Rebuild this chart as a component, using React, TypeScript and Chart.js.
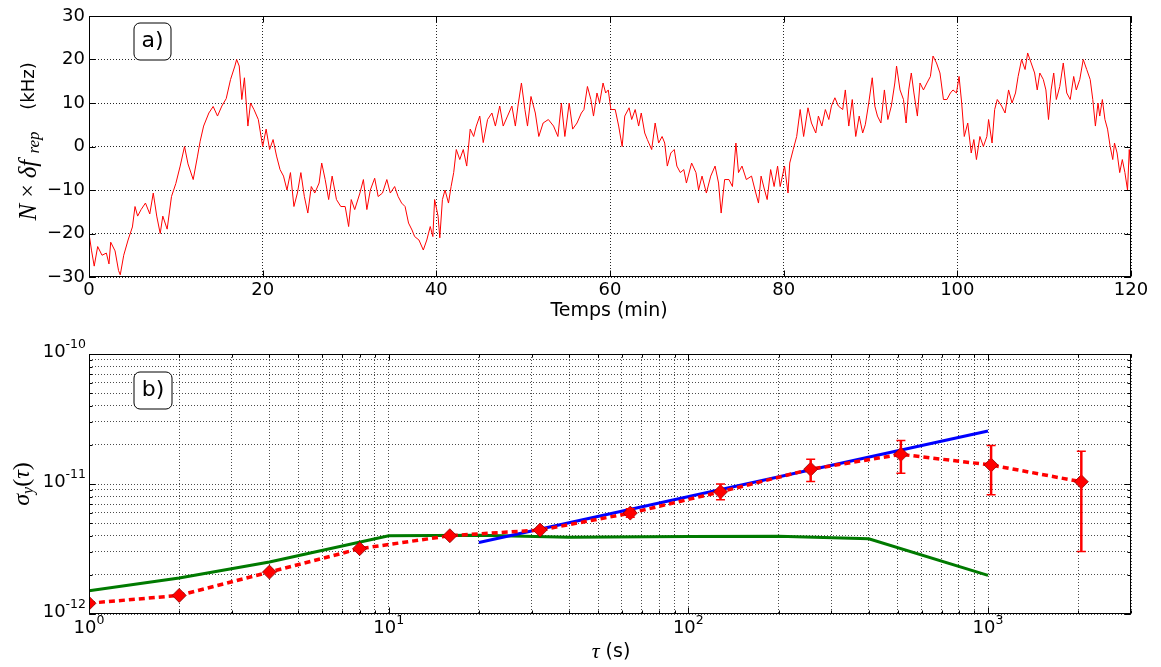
import React, { useEffect, useRef } from 'react';
import { Chart, registerables } from 'chart.js';

Chart.register(...registerables);

// ---------- panel a) : frequency drift vs time ----------
const timeMin = [
  0, 0.3, 0.6, 1, 1.5, 2, 2.3, 2.5, 3, 3.4,
  3.6, 4, 4.5, 5, 5.3, 5.6, 6, 6.5, 7, 7.4,
  7.8, 8.2, 8.5, 9, 9.5, 10, 10.5, 11, 11.4, 12,
  12.5, 12.8, 13.2, 13.8, 14.3, 14.8, 15.3, 15.8, 16.3, 16.8,
  17, 17.3, 17.6, 17.9, 18.3, 18.6, 19, 19.5, 20, 20.4,
  20.8, 21.2, 21.6, 22, 22.4, 22.8, 23.2, 23.6, 24, 24.4,
  24.8, 25.2, 25.6, 26, 26.5, 26.8, 27.2, 27.6, 28, 28.5,
  29, 29.5, 29.9, 30.2, 30.6, 31.2, 31.6, 32, 32.4, 32.9,
  33.3, 33.8, 34.3, 34.7, 35.2, 35.6, 36, 36.4, 36.8, 37.2,
  37.5, 38, 38.5, 38.9, 39.3, 39.6, 39.8, 40.2, 40.4, 40.7,
  41, 41.4, 41.7, 42, 42.3, 42.7, 43.1, 43.5, 43.9, 44.3,
  44.6, 45, 45.4, 45.9, 46.4, 46.8, 47.3, 47.7, 48.2, 48.7,
  49.1, 49.4, 49.8, 50.2, 50.5, 50.9, 51.4, 51.8, 52.3, 52.9,
  53.5, 54, 54.4, 54.8, 55.3, 55.7, 56.2, 56.7, 57, 57.4,
  57.8, 58.1, 58.5, 58.8, 59.2, 59.5, 59.8, 60.1, 60.6, 61,
  61.4, 61.7, 62.2, 62.5, 62.9, 63.3, 63.6, 64, 64.3, 64.8,
  65.2, 65.6, 66, 66.3, 66.6, 67, 67.4, 67.7, 68.1, 68.5,
  68.8, 69.4, 69.9, 70.2, 70.6, 71.1, 71.6, 72.1, 72.5, 72.8,
  73.2, 73.7, 74.1, 74.5, 74.8, 75.2, 75.7, 76.3, 76.7, 77.1,
  77.4, 77.8, 78.1, 78.5, 78.9, 79.3, 79.6, 80.1, 80.5, 80.7,
  81.1, 81.5, 81.9, 82.3, 82.8, 83.2, 83.7, 84, 84.4, 84.8,
  85.2, 85.5, 85.9, 86.3, 86.8, 87.1, 87.5, 87.9, 88.3, 88.7,
  89.1, 89.4, 89.8, 90.2, 90.5, 90.8, 91.2, 91.6, 92, 92.4,
  92.8, 93, 93.4, 93.8, 94.1, 94.4, 94.7, 95, 95.4, 95.7,
  96.1, 96.5, 96.9, 97.2, 97.6, 98, 98.4, 98.8, 99.2, 99.5,
  99.9, 100.2, 100.5, 100.8, 101.2, 101.6, 101.9, 102.2, 102.6, 103,
  103.4, 103.6, 104, 104.3, 104.6, 105.1, 105.5, 105.9, 106.3, 106.7,
  107, 107.4, 107.8, 108.1, 108.5, 108.9, 109.2, 109.5, 109.9, 110.2,
  110.5, 110.8, 111.1, 111.4, 111.8, 112.2, 112.6, 113, 113.4, 113.7,
  114.1, 114.5, 114.9, 115.3, 115.6, 115.9, 116.2, 116.4, 116.7, 117,
  117.3, 117.6, 117.9, 118.1, 118.4, 118.7, 119, 119.3, 119.6, 119.8, 120,
];
const freqKHz = [
  -20, -24, -27.5, -23, -25, -24.5, -27, -22, -24, -28.5,
  -29.5, -25, -21.5, -18.5, -13.8, -16, -14.5, -13, -15.5, -10.7,
  -16, -20, -16, -19, -11.5, -8.5, -4.5, 0, -4, -7.6,
  -2.2, 1.2, 4.7, 7.7, 9.2, 7, 9.3, 11, 15.4, 18.5,
  20, 18.5, 10.8, 15.8, 4.7, 10, 8.5, 6.2, 0, 4,
  -0.7, 1.6, -2.2, -5.3, -6.8, -10, -6, -13.8, -10.7, -6,
  -11.5, -15.3, -9.2, -10.7, -8.4, -3.8, -7.6, -12.2, -6.8, -12.2,
  -13.8, -13.8, -18.4, -12.2, -14.5, -10.7, -7.6, -14.5, -10, -7.3,
  -11.5, -10.7, -7.6, -10.7, -9.2, -11.5, -13, -13.8, -17.6, -19.2,
  -20.7, -21.5, -23.8, -21.5, -18.4, -20.7, -12.2, -16, -21, -12.2,
  -10, -13, -9.2, -6, -0.7, -3, -0.7, -4.5, 4, 2.3,
  4.7, 7, 0.9, 6.2, 7.7, 4.7, 9.3, 4.7, 7, 9.3,
  4.7, 9.3, 14.6, 8.5, 4.7, 11.5, 7.7, 2.3, 5.4, 6.2,
  4.7, 2.3, 10, 2.3, 10, 4, 5.4, 7.7, 8.5, 13.8,
  10.8, 7, 12.3, 10, 14.6, 12.3, 13, 8.5, 8.5, 4.7,
  0, 7, 8.9, 6.2, 8.5, 4.7, 7.7, 3.1, 1.6, -0.7,
  5.4, 0.8, 2.3, 0.8, -4.5, -1.5, -0.7, -4.5, -6, -5.3,
  -8.4, -3.8, -6, -10, -6.8, -10.7, -6.8, -4.5, -8.4, -15.3,
  -7.6, -7.6, -9.2, 0.8, -6, -4.5, -7.6, -6.8, -10, -13,
  -6.8, -10, -12.2, -5.3, -9.2, -4.5, -9.2, -4.5, -10.7, -3.8,
  -0.7, 2.3, 8.5, 2.3, 8.9, 5.4, 3.1, 7, 4.7, 8.5,
  6.2, 9.3, 11.2, 9.3, 8.5, 13, 4.7, 10.8, 2.3, 7,
  3.1, 5, 10, 15.8, 9.3, 7, 5.4, 13, 6.2, 9.3,
  14.6, 18.5, 13, 10.8, 5.4, 13, 16.9, 12.3, 7, 14.6,
  13, 14.6, 16.1, 20.8, 19.2, 16.9, 10.8, 10.8, 12.3, 13,
  12.3, 16.1, 10, 2.3, 5.4, -1.5, 1.6, -3, 2.3, 0,
  2.3, 6.2, 0.8, 8.5, 10.8, 9.3, 7.7, 13, 10, 12.3,
  16.1, 20, 17.7, 21.5, 19.2, 16.9, 13, 16.9, 15.4, 13,
  6.2, 13, 16.9, 10.8, 13.8, 19.2, 12.3, 10.8, 16.1, 13,
  15.4, 20, 17.7, 15.4, 10.8, 4.7, 10, 7, 10.8, 6.2,
  4, 0, -3, 0.8, -1.5, -6, -3, -6, -10, -0.7, -6,
];
const topXTicks = [0, 20, 40, 60, 80, 100, 120];
const topYTicks = [-30, -20, -10, 0, 10, 20, 30];

// ---------- panel b) : Allan deviation ----------
const tauS = [1, 2, 4, 8, 16, 32, 64, 128, 256, 512, 1024, 2048];
const adev = [1.21e-12, 1.39e-12, 2.1e-12, 3.18e-12, 4.0e-12, 4.42e-12, 5.97e-12, 8.7e-12, 1.3e-11, 1.69e-11, 1.4e-11, 1.04e-11];
const adevLow = [null, null, null, null, null, null, 5.55e-12, 7.55e-12, 1.045e-11, 1.21e-11, 8.26e-12, 3.03e-12];
const adevHigh = [null, null, null, null, null, null, 6.45e-12, 1.0e-11, 1.55e-11, 2.16e-11, 1.98e-11, 1.79e-11];
const modelTau = [1, 2, 4, 10, 20, 40, 100, 200, 400, 1000];
const modelAdev = [1.51e-12, 1.89e-12, 2.51e-12, 4.0e-12, 4.03e-12, 3.9e-12, 3.95e-12, 3.97e-12, 3.79e-12, 1.98e-12];
const fitTau = [20, 1000];
const fitAdev = [3.55e-12, 2.56e-11];
const logXDecades = [0, 1, 2, 3];
const logYDecades = [-12, -11, -10];
const logXMax = 3000;

const panelLabels = ['a)', 'b)'];
const topXTitle = 'Temps (min)';

const SANS = '"DejaVu Sans", sans-serif';
const SERIF = '"Liberation Serif", "DejaVu Serif", serif';

type Run = { text: string; font: string; dy?: number };

function drawRuns(ctx: CanvasRenderingContext2D, runs: Run[], cx: number, cy: number, rotate: boolean) {
  ctx.save();
  ctx.translate(cx, cy);
  if (rotate) ctx.rotate(-Math.PI / 2);
  let total = 0;
  const widths = runs.map((r) => {
    ctx.font = r.font;
    const w = ctx.measureText(r.text).width;
    total += w;
    return w;
  });
  let x = -total / 2;
  ctx.fillStyle = '#000';
  ctx.textAlign = 'left';
  ctx.textBaseline = 'middle';
  runs.forEach((r, i) => {
    ctx.font = r.font;
    ctx.fillText(r.text, x, r.dy || 0);
    x += widths[i];
  });
  ctx.restore();
}

function isPow10(v: number) {
  const l = Math.log10(v);
  return Math.abs(l - Math.round(l)) < 1e-9;
}

function logTicks(decades: number[], max: number) {
  const out: number[] = [];
  decades.forEach((e, k) => {
    const last = k === decades.length - 1;
    for (let m = 1; m <= 9; m++) {
      const v = m * Math.pow(10, e);
      if (v <= max * 1.0000001) out.push(v);
      if (last && max <= Math.pow(10, e) * 1.0000001) break;
    }
  });
  return out;
}

function drawPow(ctx: CanvasRenderingContext2D, exp: number, x: number, y: number, align: 'center' | 'right') {
  const big = `18px ${SANS}`;
  const small = `12.5px ${SANS}`;
  const expText = String(exp);
  ctx.font = big;
  const wb = ctx.measureText('10').width;
  ctx.font = small;
  const we = ctx.measureText(expText).width;
  const total = wb + we;
  const x0 = align === 'center' ? x - total / 2 : x - total;
  ctx.fillStyle = '#000';
  ctx.textAlign = 'left';
  ctx.textBaseline = 'middle';
  ctx.font = big;
  ctx.fillText('10', x0, y);
  ctx.font = small;
  ctx.fillText(expText, x0 + wb, y - 7);
}

function framePlugin(minorLen: number, majorLen: number) {
  return {
    id: 'frameTicks',
    afterDatasetsDraw(chart: any) {
      const { ctx, chartArea: a, scales } = chart;
      ctx.save();
      ctx.setLineDash([]);
      ctx.strokeStyle = '#000';
      ctx.lineWidth = 1;
      const L = Math.round(a.left) + 0.5;
      const R = Math.round(a.right) - 0.5;
      const T = Math.round(a.top) + 0.5;
      const B = Math.round(a.bottom) - 0.5;
      ctx.beginPath();
      scales.x.ticks.forEach((t: any) => {
        const len = isPow10(Math.abs(t.value) || 1) || scales.x.type === 'linear' ? majorLen : minorLen;
        const px = Math.round(scales.x.getPixelForValue(t.value)) + 0.5;
        ctx.moveTo(px, B); ctx.lineTo(px, B - len);
        ctx.moveTo(px, T); ctx.lineTo(px, T + len);
      });
      scales.y.ticks.forEach((t: any) => {
        const len = scales.y.type === 'linear' || isPow10(t.value) ? majorLen : minorLen;
        const py = Math.round(scales.y.getPixelForValue(t.value)) + 0.5;
        ctx.moveTo(L, py); ctx.lineTo(L + len, py);
        ctx.moveTo(R, py); ctx.lineTo(R - len, py);
      });
      ctx.stroke();
      ctx.strokeRect(L, T, R - L, B - T);
      ctx.restore();
    },
  };
}

function panelPlugin(text: string, x: number, y: number, w: number, h: number) {
  return {
    id: 'panelLabel',
    afterDraw(chart: any) {
      const ctx = chart.ctx as CanvasRenderingContext2D;
      ctx.save();
      ctx.setLineDash([]);
      ctx.beginPath();
      const r = 6;
      ctx.moveTo(x + r, y);
      ctx.arcTo(x + w, y, x + w, y + h, r);
      ctx.arcTo(x + w, y + h, x, y + h, r);
      ctx.arcTo(x, y + h, x, y, r);
      ctx.arcTo(x, y, x + w, y, r);
      ctx.closePath();
      ctx.fillStyle = '#fff';
      ctx.fill();
      ctx.strokeStyle = '#000';
      ctx.lineWidth = 1;
      ctx.stroke();
      ctx.fillStyle = '#000';
      ctx.font = `22px ${SANS}`;
      ctx.textAlign = 'center';
      ctx.textBaseline = 'middle';
      ctx.fillText(text, x + w / 2, y + h / 2);
      ctx.restore();
    },
  };
}

export default function App() {
  const topRef = useRef<HTMLCanvasElement | null>(null);
  const botRef = useRef<HTMLCanvasElement | null>(null);

  useEffect(() => {
    const gridTop = 'rgba(0,0,0,0.85)';
    const gridBot = 'rgba(0,0,0,0.7)';

    const topTitles = {
      id: 'titlesTop',
      afterDraw(chart: any) {
        const ctx = chart.ctx;
        drawRuns(ctx, [{ text: topXTitle, font: `19px ${SANS}` }], 609, 311, false);
        drawRuns(
          ctx,
          [
            { text: 'N', font: `italic 25px ${SERIF}` },
            { text: ' × ', font: `24px ${SERIF}` },
            { text: 'δ', font: `italic 25px ${SERIF}` },
            { text: 'f ', font: `italic 25px ${SERIF}` },
            { text: 'rep', font: `italic 17px ${SERIF}`, dy: 6 },
          ],
          29,
          176,
          true
        );
        drawRuns(ctx, [{ text: '(kHz)', font: `18px ${SANS}` }], 29, 86, true);
      },
    };

    const c1 = new Chart(topRef.current as HTMLCanvasElement, {
      type: 'line',
      data: {
        datasets: [
          {
            data: timeMin.map((t, i) => ({ x: t, y: freqKHz[i] })),
            borderColor: '#ff0000',
            borderWidth: 1,
            pointRadius: 0,
            tension: 0,
          },
        ],
      },
      options: {
        animation: false,
        responsive: false,
        maintainAspectRatio: false,
        layout: { padding: { left: 0, right: 30, top: 16, bottom: 0 } },
        plugins: { legend: { display: false }, tooltip: { enabled: false } },
        scales: {
          x: {
            type: 'linear',
            min: 0,
            max: 120,
            afterBuildTicks: (s: any) => { s.ticks = topXTicks.map((v) => ({ value: v })); },
            afterFit: (s: any) => { s.height = 53; },
            ticks: { color: '#000', font: { family: SANS, size: 18 }, padding: 3, maxRotation: 0, autoSkip: false },
            grid: { color: gridTop, lineWidth: 1, drawTicks: false },
            border: { display: false, dash: [1, 2] },
          },
          y: {
            type: 'linear',
            min: -30,
            max: 30,
            afterBuildTicks: (s: any) => { s.ticks = topYTicks.map((v) => ({ value: v })); },
            afterFit: (s: any) => { s.width = 89; },
            ticks: {
              color: '#000',
              font: { family: SANS, size: 18 },
              padding: 4,
              autoSkip: false,
              callback: (v: any) => (v < 0 ? '\u2212' + Math.abs(v) : String(v)),
            },
            grid: { color: gridTop, lineWidth: 1, drawTicks: false },
            border: { display: false, dash: [1, 2] },
          },
        },
      },
      plugins: [framePlugin(3, 6), topTitles, panelPlugin(panelLabels[0], 134, 23, 37, 37)],
    } as any);

    const errorBars = {
      id: 'errorBars',
      afterDatasetsDraw(chart: any) {
        const { ctx, scales } = chart;
        ctx.save();
        ctx.setLineDash([]);
        ctx.strokeStyle = '#ff0000';
        tauS.forEach((t, i) => {
          const lo = adevLow[i];
          const hi = adevHigh[i];
          if (lo == null || hi == null) return;
          const x = scales.x.getPixelForValue(t);
          const y1 = scales.y.getPixelForValue(lo);
          const y2 = scales.y.getPixelForValue(hi);
          ctx.lineWidth = 2.5;
          ctx.beginPath();
          ctx.moveTo(x, y1); ctx.lineTo(x, y2);
          ctx.stroke();
          ctx.lineWidth = 1.5;
          ctx.beginPath();
          ctx.moveTo(x - 4.5, y1); ctx.lineTo(x + 4.5, y1);
          ctx.moveTo(x - 4.5, y2); ctx.lineTo(x + 4.5, y2);
          ctx.stroke();
        });
        ctx.restore();
      },
    };

    const logLabels = {
      id: 'logLabels',
      afterDraw(chart: any) {
        const { ctx, scales, chartArea: a } = chart;
        ctx.save();
        logXDecades.forEach((e) => {
          const x = scales.x.getPixelForValue(Math.pow(10, e));
          drawPow(ctx, e, x, a.bottom + 14, 'center');
        });
        logYDecades.forEach((e) => {
          const y = scales.y.getPixelForValue(Math.pow(10, e));
          drawPow(ctx, e, 86, y - 2, 'right');
        });
        drawRuns(
          ctx,
          [
            { text: 'τ', font: `italic 22px ${SERIF}` },
            { text: ' (s)', font: `19px ${SANS}` },
          ],
          611,
          a.bottom + 38,
          false
        );
        drawRuns(
          ctx,
          [
            { text: 'σ', font: `italic 24px ${SERIF}` },
            { text: 'y', font: `italic 16px ${SERIF}`, dy: 6 },
            { text: '(', font: `24px ${SERIF}` },
            { text: 'τ', font: `italic 24px ${SERIF}` },
            { text: ')', font: `24px ${SERIF}` },
          ],
          23,
          154,
          true
        );
        ctx.restore();
      },
    };

    const xLog = logTicks(logXDecades, logXMax);
    const yLog = logTicks(logYDecades, 1e-10);

    const c2 = new Chart(botRef.current as HTMLCanvasElement, {
      type: 'line',
      data: {
        datasets: [
          {
            data: tauS.map((t, i) => ({ x: t, y: adev[i] })),
            borderColor: '#ff0000',
            borderWidth: 3.5,
            borderDash: [6, 4],
            pointStyle: 'rectRot',
            pointRadius: 7,
            pointBackgroundColor: '#ff0000',
            pointBorderColor: '#8b0000',
            pointBorderWidth: 0.8,
            tension: 0,
            order: 1,
          },
          {
            data: fitTau.map((t, i) => ({ x: t, y: fitAdev[i] })),
            borderColor: '#0000ff',
            borderWidth: 3,
            pointRadius: 0,
            tension: 0,
            order: 2,
          },
          {
            data: modelTau.map((t, i) => ({ x: t, y: modelAdev[i] })),
            borderColor: '#007a00',
            borderWidth: 3,
            pointRadius: 0,
            tension: 0,
            order: 3,
          },
        ],
      },
      options: {
        animation: false,
        responsive: false,
        maintainAspectRatio: false,
        layout: { padding: { left: 0, right: 30, top: 24, bottom: 0 } },
        plugins: { legend: { display: false }, tooltip: { enabled: false } },
        scales: {
          x: {
            type: 'logarithmic',
            min: 1,
            max: logXMax,
            afterBuildTicks: (s: any) => { s.ticks = xLog.map((v) => ({ value: v })); },
            afterFit: (s: any) => { s.height = 53; },
            ticks: { display: false, autoSkip: false },
            grid: { color: gridBot, lineWidth: 1, drawTicks: false },
            border: { display: false, dash: [1, 2] },
          },
          y: {
            type: 'logarithmic',
            min: 1e-12,
            max: 1e-10,
            afterBuildTicks: (s: any) => { s.ticks = yLog.map((v) => ({ value: v })); },
            afterFit: (s: any) => { s.width = 89; },
            ticks: { display: false, autoSkip: false },
            grid: { color: gridBot, lineWidth: 1, drawTicks: false },
            border: { display: false, dash: [1, 2] },
          },
        },
      },
      plugins: [errorBars, framePlugin(3, 6), logLabels, panelPlugin(panelLabels[1], 134, 42, 38, 37)],
    } as any);

    return () => {
      c1.destroy();
      c2.destroy();
    };
  }, []);

  return (
    <div style={{ position: 'absolute', left: 0, top: 0, width: 1161, height: 667, background: '#fff' }}>
      <canvas ref={topRef} width={1161} height={330} style={{ position: 'absolute', left: 0, top: 0 }} />
      <canvas ref={botRef} width={1161} height={337} style={{ position: 'absolute', left: 0, top: 330 }} />
    </div>
  );
}
